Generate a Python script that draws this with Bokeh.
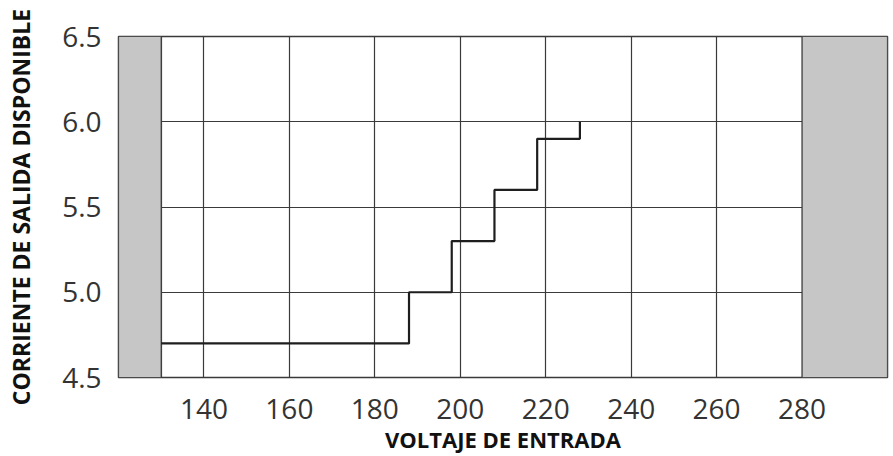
from bokeh.plotting import figure
from bokeh.models import FixedTicker, Range1d, CustomJSTickFormatter
from bokeh.embed import file_html
from bokeh.resources import INLINE

# Data
voltage = [130, 188, 198, 208, 218, 228]
current = [4.7, 5.0, 5.3, 5.6, 5.9, 6.0]
x_ticks = [140, 160, 180, 200, 220, 240, 260, 280]
x_grid = [130, 140, 160, 180, 200, 220, 240, 260, 280]
y_ticks = [4.5, 5.0, 5.5, 6.0, 6.5]
band_left = [120, 280]
band_right = [130, 300]
x_title = "VOLTAJE DE ENTRADA"
y_title = "CORRIENTE DE SALIDA DISPONIBLE"

FONT = "Open Sans"
LINE = "#3a3a3a"

p = figure(width=893, height=456, output_backend="svg", toolbar_location=None,
           x_range=Range1d(120, 300), y_range=Range1d(4.5, 6.5),
           min_border_left=118, min_border_right=6, min_border_top=36,
           min_border_bottom=78)
p.background_fill_color = "white"
p.border_fill_color = "white"
p.outline_line_color = LINE
p.outline_line_width = 1.5

# grid
p.xgrid.ticker = FixedTicker(ticks=x_grid)
p.ygrid.ticker = FixedTicker(ticks=y_ticks)
p.xgrid.grid_line_color = LINE
p.ygrid.grid_line_color = LINE
p.xgrid.grid_line_width = 1.2
p.ygrid.grid_line_width = 1.2

# grey bands
p.quad(left=band_left, right=band_right, bottom=4.5, top=6.5,
       fill_color="#c6c6c6", line_color=LINE, line_width=1.2)

# step line
p.step(voltage, current, mode="after", line_color="#1e1e1e", line_width=2.2)

# axes
xa = p.xaxis[0]
xa.ticker = FixedTicker(ticks=x_ticks)
xa.axis_line_color = None
xa.major_tick_line_color = None
xa.minor_tick_line_color = None
xa.major_label_text_font = FONT
xa.major_label_text_font_size = "28px"
xa.major_label_text_color = "#333333"
xa.major_label_standoff = 15
xa.axis_label = x_title
xa.axis_label_text_font = FONT
xa.axis_label_text_font_style = "bold"
xa.axis_label_text_font_size = "22px"
xa.axis_label_text_color = "#111111"
xa.axis_label_standoff = 2

ya = p.yaxis[0]
ya.ticker = FixedTicker(ticks=y_ticks)
ya.formatter = CustomJSTickFormatter(code="return tick.toFixed(1);")
ya.axis_line_color = None
ya.major_tick_line_color = None
ya.minor_tick_line_color = None
ya.major_label_text_font = FONT
ya.major_label_text_font_size = "28px"
ya.major_label_text_color = "#333333"
ya.major_label_standoff = 11
ya.axis_label = y_title
ya.axis_label_text_font = FONT
ya.axis_label_text_font_style = "bold"
ya.axis_label_text_font_size = "23px"
ya.axis_label_text_color = "#111111"
ya.axis_label_standoff = 22

open("out.html", "w").write(file_html(p, INLINE))
